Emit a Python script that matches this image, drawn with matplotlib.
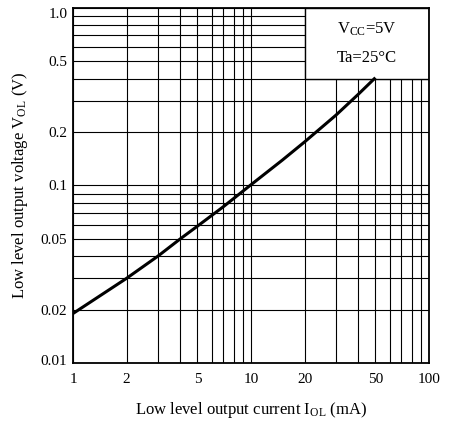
import numpy as np
import matplotlib
matplotlib.use("Agg")
import matplotlib.pyplot as plt
import matplotlib.transforms as mtransforms
from matplotlib.ticker import FixedLocator, LogLocator, NullFormatter
from matplotlib.patches import Rectangle

plt.rcParams['font.family'] = ['Liberation Serif', 'DejaVu Serif']
plt.rcParams['mathtext.fontset'] = 'custom'
plt.rcParams['mathtext.rm'] = 'Liberation Serif'
plt.rcParams['mathtext.it'] = 'Liberation Serif'

# data
current_ma = [1, 2, 3, 4, 5, 7, 10, 15, 20, 30, 40, 50]
voltage_v = [0.019, 0.030, 0.040, 0.050, 0.059, 0.076, 0.101, 0.139, 0.176, 0.249, 0.326, 0.405]

x_ticks = [1, 2, 5, 10, 20, 50, 100]
x_labels = ['1', '2', '5', '10', '20', '50', '100']
y_ticks = [0.01, 0.02, 0.05, 0.1, 0.2, 0.5, 1.0]
y_labels = ['0.01', '0.02', '0.05', '0.1', '0.2', '0.5', '1.0']

fig = plt.figure(figsize=(4.51, 4.21), dpi=100)
ax = fig.add_axes([0.1619, 0.1378, 0.7893, 0.8432])

ax.set_xscale('log')
ax.set_yscale('log')
ax.set_xlim(1, 100)
ax.set_ylim(0.01, 1.0)

ax.xaxis.set_major_locator(FixedLocator(x_ticks))
ax.xaxis.set_minor_locator(LogLocator(base=10, subs=np.arange(1, 10)))
ax.xaxis.set_minor_formatter(NullFormatter())
ax.set_xticklabels(x_labels)
ax.yaxis.set_major_locator(FixedLocator(y_ticks))
ax.yaxis.set_minor_locator(LogLocator(base=10, subs=np.arange(1, 10)))
ax.yaxis.set_minor_formatter(NullFormatter())
ax.set_yticklabels(y_labels)

ax.tick_params(which='both', length=0, labelsize=11)
ax.tick_params(axis='x', pad=7)
ax.tick_params(axis='y', pad=4)

# end labels sit a little inside the frame
ylabs = ax.get_yticklabels()
ylabs[-1].set_transform(ylabs[-1].get_transform() +
                        mtransforms.ScaledTranslation(0, -5 / 100, fig.dpi_scale_trans))
ylabs[0].set_transform(ylabs[0].get_transform() +
                       mtransforms.ScaledTranslation(0, 3 / 100, fig.dpi_scale_trans))

ax.set_axisbelow(True)
ax.grid(True, which='both', color='black', linewidth=0.8)

for s in ax.spines.values():
    s.set_linewidth(1.3)

# condition box in the upper right, hides the grid behind it
ax.add_patch(Rectangle((20, 0.4), 80, 0.6, facecolor='white', edgecolor='black',
                       linewidth=1.0, zorder=2))
ax.text(44.9, 0.76, r'V$_{\mathrm{CC}}$=5V', ha='center', va='center', fontsize=12, zorder=4)
ax.text(44.9, 0.52, 'Ta=25°C', ha='center', va='center', fontsize=12, zorder=4)

ax.plot(current_ma, voltage_v, color='black', linewidth=2.2, zorder=3,
        solid_capstyle='butt')

ax.set_xlabel(r'Low level output current I$_{\mathrm{OL}}$ (mA)', fontsize=12)
ax.set_ylabel(r'Low level output voltage V$_{\mathrm{OL}}$ (V)', fontsize=12)
ax.xaxis.set_label_coords(0.5, -0.105)
ax.yaxis.set_label_coords(-0.12, 0.5)

fig.savefig('out.png', dpi=100)
